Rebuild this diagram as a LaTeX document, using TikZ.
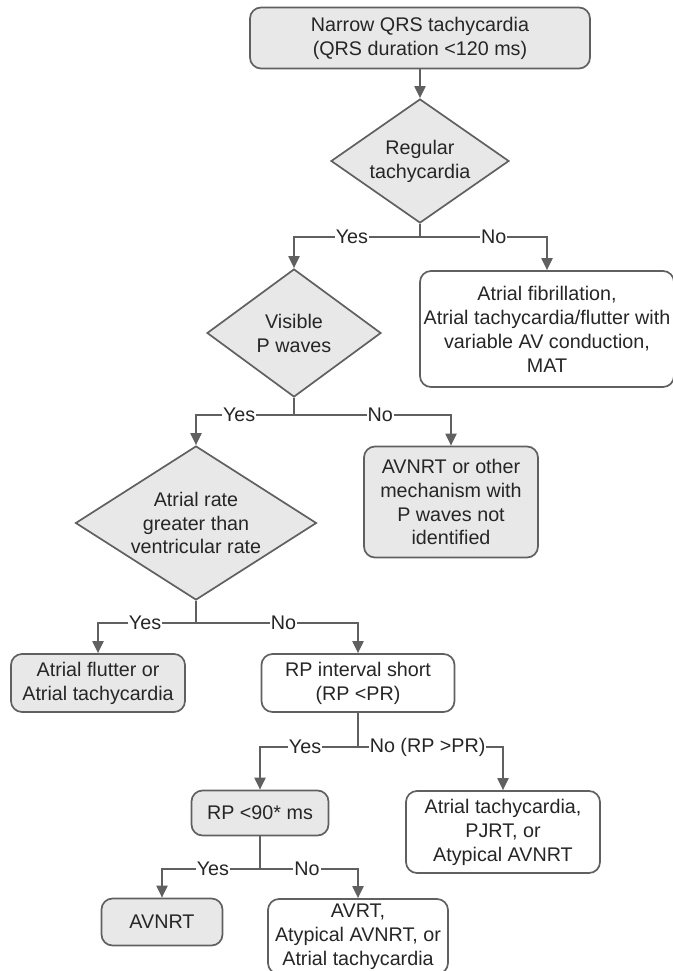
\documentclass[tikz,border=0pt]{standalone}
\usepackage{fontspec}
\setmainfont{Liberation Sans}
\usetikzlibrary{shapes.geometric,arrows.meta}

\definecolor{linegray}{RGB}{96,96,96}
\definecolor{boxgray}{RGB}{232,232,232}
\definecolor{txt}{RGB}{38,38,38}

\tikzset{
  flowbase/.style={draw=linegray, line width=1.7bp, align=center, text=txt,
    font=\fontsize{19.8}{24}\selectfont, inner sep=0pt},
  gbox/.style={flowbase, rectangle, rounded corners=11bp, fill=boxgray},
  wbox/.style={flowbase, rectangle, rounded corners=11bp, fill=white},
  decision/.style={flowbase, diamond, fill=boxgray},
  link/.style={draw=linegray, line width=2bp},
  arr/.style={link, -{Triangle[length=12bp,width=11bp]}},
  lbl/.style={fill=white, inner sep=1bp, text=txt, font=\fontsize{19.8}{24}\selectfont}
}

\begin{document}
\begin{tikzpicture}[x=1bp, y=-1bp]
    \useasboundingbox (0,0) rectangle (673,971);

    % Start and first question
    \node[gbox, minimum width=340bp, minimum height=61bp] (start) at (420,38)
        {Narrow QRS tachycardia\\(QRS duration <120 ms)};
    \node[decision, minimum width=178bp, minimum height=124bp, aspect=1.43] (regular) at (420,161)
        {Regular\\tachycardia};
    \draw[arr] (start) -- (regular);

    % Irregular rhythm / visible P waves
    \node[wbox, minimum width=254bp, minimum height=116bp] (afib) at (547,329)
        {Atrial fibrillation,\\Atrial tachycardia/flutter with\\variable AV conduction,\\MAT};
    \node[decision, minimum width=174bp, minimum height=128bp, aspect=1.36] (pwaves) at (294,333)
        {Visible\\P waves};
    \coordinate (j1) at (regular.south |- 0,237);
    \draw[link] (regular.south) -- (j1);
    \draw[arr] (j1) -| node[lbl, pos=.27] {Yes} (pwaves.north);
    \draw[arr] (j1) -| node[lbl, pos=.29] {No} (afib.north);

    % Atrial vs ventricular rate
    \node[decision, minimum width=241bp, minimum height=154bp, aspect=1.56] (rate) at (196,523)
        {Atrial rate\\greater than\\ventricular rate};
    \node[gbox, minimum width=174bp, minimum height=111bp] (nop) at (451,502)
        {AVNRT or other\\mechanism with\\P waves not\\identified};
    \coordinate (j2) at (pwaves.south |- 0,415);
    \draw[link] (pwaves.south) -- (j2);
    \draw[arr] (j2) -| node[lbl, pos=.28] {Yes} (rate.north);
    \draw[arr] (j2) -| node[lbl, pos=.275] {No} (nop.north);

    % Flutter / RP interval
    \node[gbox, minimum width=174bp, minimum height=58bp] (flutter) at (98,683)
        {Atrial flutter or\\Atrial tachycardia};
    \node[wbox, minimum width=193bp, minimum height=58bp] (rpshort) at (358,683)
        {RP interval short\\(RP <PR)};
    \coordinate (j3) at (rate.south |- 0,623);
    \draw[link] (rate.south) -- (j3);
    \draw[arr] (j3) -| node[lbl, pos=.26] {Yes} (flutter.north);
    \draw[arr] (j3) -| node[lbl, pos=.27] {No} (rpshort.north);

    % Short RP vs long RP
    \node[gbox, minimum width=137bp, minimum height=45bp] (rp90) at (260,813)
        {RP <90* ms};
    \node[wbox, minimum width=194bp, minimum height=82bp] (longrp) at (503,832)
        {Atrial tachycardia,\\PJRT, or\\Atypical AVNRT};
    \coordinate (j4) at (rpshort.south |- 0,747);
    \draw[link] (rpshort.south) -- (j4);
    \draw[arr] (j4) -| node[lbl, pos=.27] {Yes} (rp90.north);
    \draw[arr] (j4) -| node[lbl, pos=.24] {No (RP >PR)} (longrp.north);

    % Final outcomes (last box runs off the page)
    \node[gbox, minimum width=121bp, minimum height=47bp] (avnrt) at (162,922)
        {AVNRT};
    \node[wbox, minimum width=180bp, minimum height=75bp] (avrt) at (358,936.5)
        {AVRT,\\Atypical AVNRT, or\\Atrial tachycardia};
    \coordinate (j5) at (rp90.south |- 0,869);
    \draw[link] (rp90.south) -- (j5);
    \draw[arr] (j5) -| node[lbl, pos=.24] {Yes} (avnrt.north);
    \draw[arr] (j5) -| node[lbl, pos=.24] {No} (avrt.north);
\end{tikzpicture}
\end{document}
